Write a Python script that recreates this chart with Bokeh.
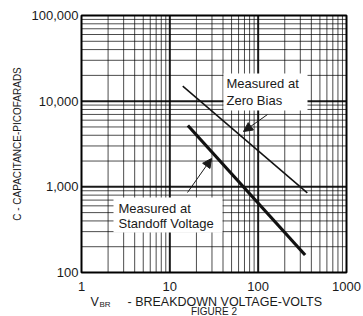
import math
from bokeh.plotting import figure
from bokeh.models import Label, Arrow, NormalHead
from bokeh.core.properties import value
from bokeh.embed import file_html
from bokeh.resources import INLINE

# ---- data ----
zero_bias_v = [14, 360]
zero_bias_c = [15000, 850]
standoff_v = [16, 340]
standoff_c = [5200, 160]

x_ticks = [1, 10, 100, 1000]
x_tick_labels = ["1", "10", "100", "1000"]
y_ticks = [100, 1000, 10000, 100000]
y_tick_labels = ["100", "1,000", "10,000", "100,000"]
mantissas = [2, 3, 4, 5, 6, 7, 8, 9]
x_minor = [m * d for d in x_ticks[:-1] for m in mantissas]
y_minor = [m * d for d in y_ticks[:-1] for m in mantissas]

zero_label = ["Measured at", "Zero Bias"]
standoff_label = ["Measured at", "Standoff Voltage"]
x_title_parts = ["V", "BR", "- BREAKDOWN VOLTAGE-VOLTS"]
y_title = "C - CAPACITANCE-PICOFARADS"
fig_title = "FIGURE 2"

# ---- layout (pixels of the plot box inside the canvas) ----
W, H = 363, 316
PX_L, PX_R, PX_T, PX_B = 81, 346, 15, 272
lx0, lx1 = math.log10(x_ticks[0]), math.log10(x_ticks[-1])
ly0, ly1 = math.log10(y_ticks[0]), math.log10(y_ticks[-1])
DX = (PX_R - PX_L) / (lx1 - lx0)
DY = (PX_B - PX_T) / (ly1 - ly0)


def px2x(px):
    return 10 ** (lx0 + (px - PX_L) / DX)


def px2y(py):
    return 10 ** (ly1 - (py - PX_T) / DY)


FONT = "Liberation Sans"
INK = "#1a1a1a"

p = figure(width=W, height=H, x_axis_type="log", y_axis_type="log",
           x_range=(px2x(0), px2x(W)), y_range=(px2y(H), px2y(0)),
           x_axis_location=None, y_axis_location=None,
           output_backend="svg", toolbar_location=None,
           min_border=0, min_border_left=0, min_border_right=0,
           min_border_top=0, min_border_bottom=0)
p.background_fill_color = "white"
p.border_fill_color = "white"
p.outline_line_color = None
p.grid.visible = False

yb, yt = y_ticks[0], y_ticks[-1]
xb, xt = x_ticks[0], x_ticks[-1]

# minor grid
p.segment(x0=x_minor, y0=[yb] * len(x_minor), x1=x_minor, y1=[yt] * len(x_minor),
          line_color="black", line_alpha=0.7, line_width=1)
p.segment(x0=[xb] * len(y_minor), y0=y_minor, x1=[xt] * len(y_minor), y1=y_minor,
          line_color="black", line_alpha=0.7, line_width=1)
# major grid
p.segment(x0=x_ticks[1:-1], y0=[yb] * 2, x1=x_ticks[1:-1], y1=[yt] * 2,
          line_color="black", line_alpha=0.9, line_width=2)
p.segment(x0=[xb] * 2, y0=y_ticks[1:-1], x1=[xt] * 2, y1=y_ticks[1:-1],
          line_color="black", line_alpha=0.9, line_width=2)

# white boxes behind the annotation texts
p.quad(left=[px2x(223), px2x(113)], right=[px2x(307), px2x(222)],
       top=[px2y(73), px2y(197)], bottom=[px2y(110), px2y(232)],
       fill_color="white", line_color=None)

# frame
p.quad(left=xb, right=xt, bottom=yb, top=yt, fill_color=None,
       line_color="black", line_width=2)

# curves
p.line(zero_bias_v, zero_bias_c, line_width=1.5, line_color="#111111")
p.line(standoff_v, standoff_c, line_width=3.2, line_color="#111111")

# tick labels
p.text(x=x_ticks, y=[px2y(286)] * len(x_ticks), text=x_tick_labels,
       text_font=value(FONT), text_font_size="13px", text_color=INK,
       text_align="center", text_baseline="middle")
p.text(x=[px2x(78)] * len(y_ticks), y=y_ticks, text=y_tick_labels,
       text_font=value(FONT), text_font_size="13px", text_color=INK,
       text_align="right", text_baseline="middle")


def add_text(px, py, text, size="13px", align="left", baseline="middle", angle=0.0):
    p.add_layout(Label(x=px2x(px), y=px2y(py), text=text, text_font=FONT,
                       text_font_size=size, text_color=INK, text_align=align,
                       text_baseline=baseline, angle=angle))


add_text(226, 83, zero_label[0])
add_text(226, 100, zero_label[1])
add_text(118, 208, standoff_label[0])
add_text(118, 223, standoff_label[1])

# arrows
head = dict(size=9, fill_color=INK, line_color=INK)
p.add_layout(Arrow(x_start=px2x(267), y_start=px2y(114), x_end=px2x(243), y_end=px2y(131),
                   line_width=1, line_color=INK, end=NormalHead(**head)))
p.add_layout(Arrow(x_start=px2x(187), y_start=px2y(192), x_end=px2x(211), y_end=px2y(158),
                   line_width=1, line_color=INK, end=NormalHead(**head)))

# axis titles and caption
add_text(17, (PX_T + PX_B) / 2, y_title, size="10px", align="center", angle=math.pi / 2)
add_text(90, 301, x_title_parts[0], size="12.5px")
add_text(99, 304, x_title_parts[1], size="8px")
add_text(127, 301, x_title_parts[2], size="12.5px")
add_text((PX_L + PX_R) / 2, 316, fig_title, size="10px", align="center", baseline="bottom")

open("out.html", "w").write(file_html(p, INLINE))
